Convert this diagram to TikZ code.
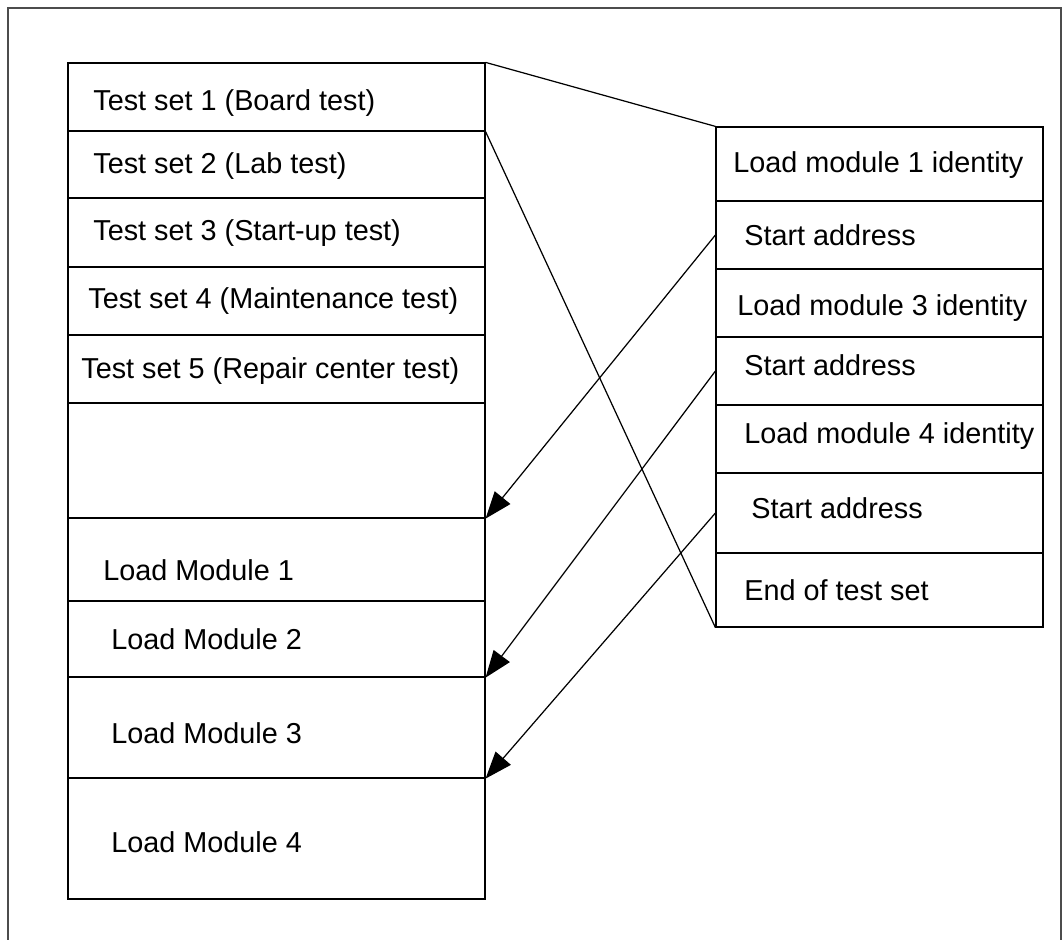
\documentclass[tikz,border=0pt]{standalone}
\usepackage{fontspec}
\setmainfont{Liberation Sans}
\usepackage{tikz}
\usetikzlibrary{positioning,calc,arrows.meta}

\begin{document}
\begin{tikzpicture}[
    x=0.02cm, y=-0.02cm,
    font=\fontsize{16.4pt}{19pt}\selectfont,
    cell/.style={
        rectangle,
        draw=black,
        line width=0.7pt,
        inner sep=0pt,
        minimum width=8.34cm
    },
    rcell/.style={
        cell,
        minimum width=6.54cm
    },
    txt/.style={
        anchor=base west,
        inner sep=0pt
    },
    arrow/.style={
        -{Triangle[length=0.54cm,width=0.40cm]},
        line width=0.7pt
    },
    link/.style={
        line width=0.7pt
    }
]
\useasboundingbox (0,0) rectangle (1063,940);

% outer frame (open at the bottom)
\draw[black!70, line width=0.7pt] (8,940) -- (8,8) -- (1061,8) -- (1061,940);

% test set table
\node[cell, minimum height=1.36cm] (ts1) at (276.5,97)    {};
\node[cell, minimum height=1.34cm] (ts2) at (276.5,164.5) {};
\node[cell, minimum height=1.38cm] (ts3) at (276.5,232.5) {};
\node[cell, minimum height=1.36cm] (ts4) at (276.5,301)   {};
\node[cell, minimum height=1.36cm] (ts5) at (276.5,369)   {};
\node[cell, minimum height=2.30cm] (gap) at (276.5,460.5) {};
\node[cell, minimum height=1.66cm] (lm1) at (276.5,559.5) {};
\node[cell, minimum height=1.52cm] (lm2) at (276.5,639)   {};
\node[cell, minimum height=2.02cm] (lm3) at (276.5,727.5) {};
\node[cell, minimum height=2.42cm] (lm4) at (276.5,838.5) {};

\node[txt] (ts1-t) at (93,110)  {Test set 1 (Board test)};
\node[txt] (ts2-t) at (93,173)  {Test set 2 (Lab test)};
\node[txt] (ts3-t) at (93,240)  {Test set 3 (Start-up test)};
\node[txt] (ts4-t) at (88,308)  {Test set 4 (Maintenance test)};
\node[txt] (ts5-t) at (81,378)  {Test set 5 (Repair center test)};
\node[txt] (lm1-t) at (103,580) {Load Module 1};
\node[txt] (lm2-t) at (111,649) {Load Module 2};
\node[txt] (lm3-t) at (111,743) {Load Module 3};
\node[txt] (lm4-t) at (111,852) {Load Module 4};

% test set layout
\node[rcell, minimum height=1.48cm] (id1) at (879.5,164) {};
\node[rcell, minimum height=1.36cm] (sa1) at (879.5,235) {};
\node[rcell, minimum height=1.36cm] (id3) at (879.5,303) {};
\node[rcell, minimum height=1.36cm] (sa3) at (879.5,371) {};
\node[rcell, minimum height=1.36cm] (id4) at (879.5,439) {};
\node[rcell, minimum height=1.60cm] (sa4) at (879.5,513) {};
\node[rcell, minimum height=1.48cm] (eot) at (879.5,590) {};

\node[txt] (id1-t) at (733,172) {Load module 1 identity};
\node[txt] (sa1-t) at (744,245) {Start address};
\node[txt] (id3-t) at (737,315) {Load module 3 identity};
\node[txt] (sa3-t) at (744,375) {Start address};
\node[txt] (id4-t) at (744,443) {Load module 4 identity};
\node[txt] (sa4-t) at (751,518) {Start address};
\node[txt] (eot-t) at (744,600) {End of test set};

\draw[link] (ts1.north east) -- (id1.north west);
\draw[link] (ts1.south east) -- (eot.south west);

\draw[arrow] (sa1.west) -- (gap.south east);
\draw[arrow] (sa3.west) -- (lm2.south east);
\draw[arrow] (sa4.west) -- (lm3.south east);

\end{tikzpicture}
\end{document}
